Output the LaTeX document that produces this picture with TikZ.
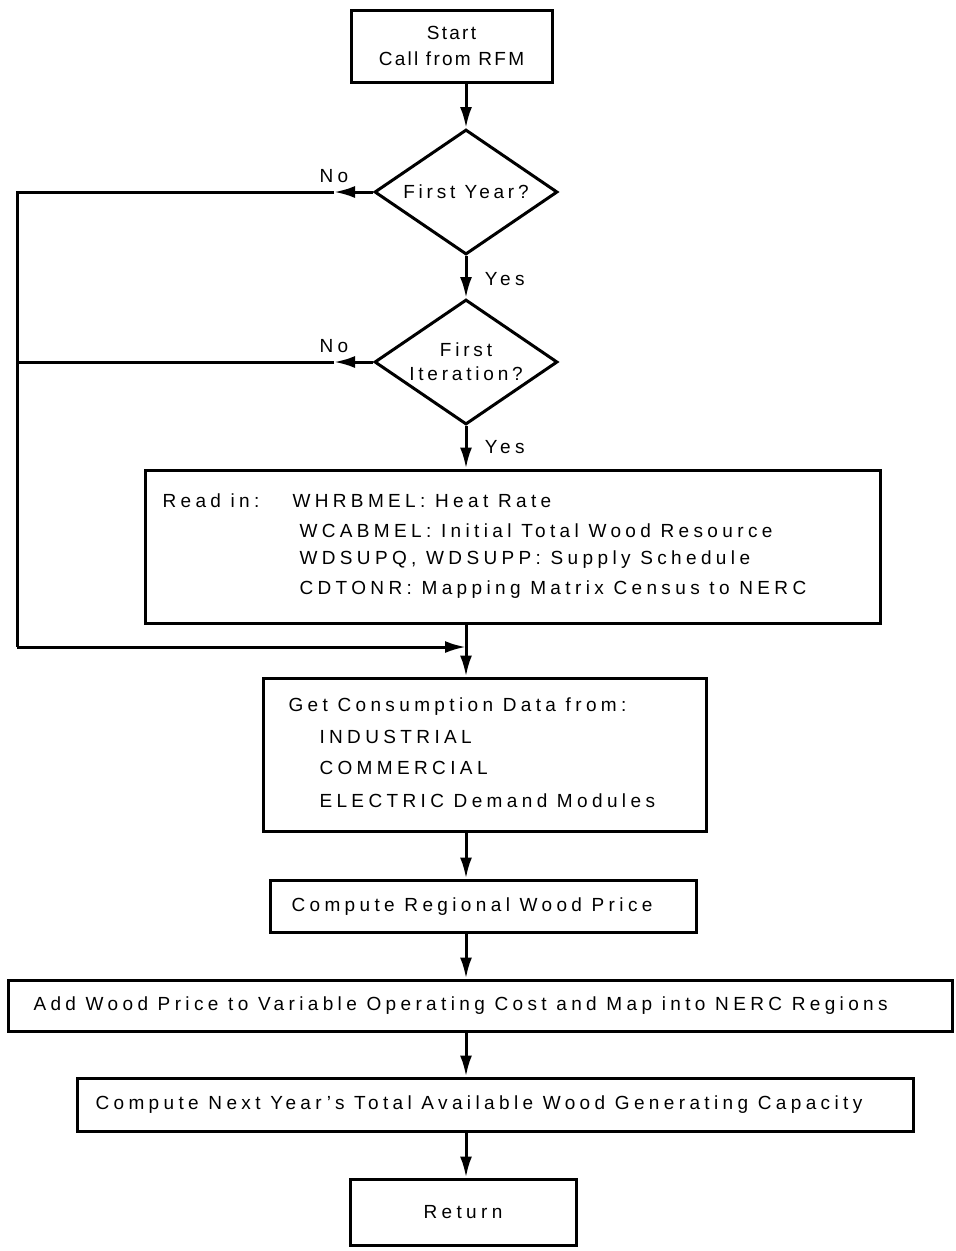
\documentclass[tikz,border=0pt]{standalone}
\usepackage{fontspec}
\setmainfont{Liberation Sans}[LetterSpace=23]
\usetikzlibrary{shapes.geometric, arrows.meta}

\begin{document}
\begin{tikzpicture}[x=1pt, y=-1pt, line width=3pt,
    font=\fontsize{19}{26}\selectfont,
    box/.style={draw, rectangle, inner sep=0pt},
    decision/.style={draw, diamond, aspect=1.46, inner sep=0pt, align=center,
        minimum width=183pt, minimum height=125pt,
        font={\fontsize{19}{24}\selectfont\addfontfeatures{LetterSpace=20}}},
    flow/.style={-{Latex[length=21pt, width=12pt]}},
    txt/.style={inner sep=0pt, anchor=west}]

    \useasboundingbox (0,0) rectangle (956,1251);

    % Boxes
    \node [box, minimum width=201pt, minimum height=72pt, align=center,
        font={\fontsize{19}{26}\selectfont\addfontfeatures{LetterSpace=12}}] (start) at (451.5,46)
        {Start\\Call from RFM};
    \node [decision] (year) at (466,192) {First Year?};
    \node [decision] (iter) at (466,362) {First\\Iteration?};
    \node [box, minimum width=735pt, minimum height=153pt] (read) at (512.5,546.5) {};
    \node [box, minimum width=443pt, minimum height=153pt] (cons) at (484.5,754.5) {};
    \node [box, minimum width=426pt, minimum height=52pt] (price) at (483,906) {};
    \node [box, minimum width=944pt, minimum height=51pt] (add) at (480,1005.5) {};
    \node [box, minimum width=836pt, minimum height=53pt] (next) at (495,1104.5) {};
    \node [box, minimum width=226pt, minimum height=66pt] (ret) at (463,1212) {Return};

    % Texts in the boxes
    \node [txt] (readin) at (161,501) {Read in:};
    \node [txt] (r1) at (291,501) {WHRBMEL: Heat Rate};
    \node [txt] (r2) at (298,531) {WCABMEL: Initial Total Wood Resource};
    \node [txt] (r3) at (298,560) {WDSUPQ, WDSUPP: Supply Schedule};
    \node [txt] (r4) at (298,590) {CDTONR: Mapping Matrix Census to NERC};
    \node [txt] (c0) at (287,707) {Get Consumption Data from:};
    \node [txt] (c1) at (318,737) {INDUSTRIAL};
    \node [txt] (c2) at (318,768) {COMMERCIAL};
    \node [txt] (c3) at (318,801) {ELECTRIC Demand Modules};
    \node [txt] (p1) at (290,907) {Compute Regional Wood Price};
    \node [txt] (a1) at (32,1006) {Add Wood Price to Variable Operating Cost and Map into NERC Regions};
    \node [txt] (n1) at (94,1105) {Compute Next Year's Total Available Wood Generating Capacity};

    % Loop back
    \coordinate (noA) at (334,192);
    \coordinate (noB) at (334,362);
    \coordinate (topL) at (17,192);
    \coordinate (midL) at (17,362);
    \coordinate (botL) at (17,647);
    \coordinate (join) at (466,647);

    % Connectors
    \draw [flow] (start.south -| year.north) -- (year.north);
    \draw [flow] (year.south) -- node [right=14pt, pos=0.55] (yes1) {Yes} (iter.north);
    \draw [flow] (iter.south) -- node [right=14pt, pos=0.5] (yes2) {Yes} (read.north -| iter.south);
    \draw [flow] (year.west) -- node [above=4pt, pos=1.0] (no1) {No} (noA);
    \draw [flow] (iter.west) -- node [above=4pt, pos=1.0] (no2) {No} (noB);
    \draw [line join=miter] (noA) -- (topL) -- (botL);
    \draw (noB) -- (midL);
    \draw [flow] (botL) -- (join);
    \draw [flow] (read.south -| join) -- (cons.north -| join);
    \draw [flow] (cons.south -| join) -- (price.north -| join);
    \draw [flow] (price.south -| join) -- (add.north -| join);
    \draw [flow] (add.south -| join) -- (next.north -| join);
    \draw [flow] (next.south -| join) -- (ret.north -| join);

\end{tikzpicture}
\end{document}
